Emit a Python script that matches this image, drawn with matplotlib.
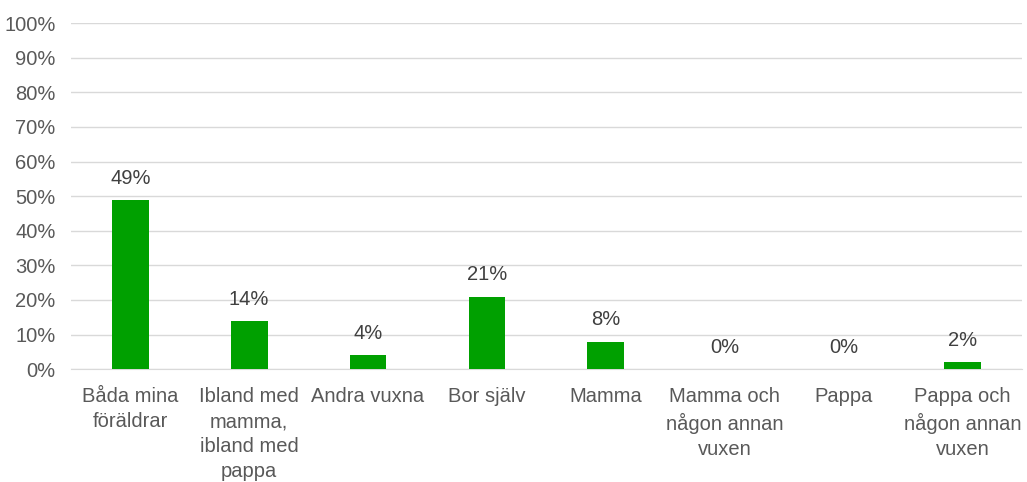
import numpy as np
import matplotlib.pyplot as plt

plt.rcParams['font.family'] = ['Liberation Sans', 'DejaVu Sans']

categories = ['Båda mina\nföräldrar', 'Ibland med\nmamma,\nibland med\npappa', 'Andra vuxna',
              'Bor själv', 'Mamma', 'Mamma och\nnågon annan\nvuxen', 'Pappa',
              'Pappa och\nnågon annan\nvuxen']
values = [49, 14, 4, 21, 8, 0, 0, 2]
yticks = [0, 10, 20, 30, 40, 50, 60, 70, 80, 90, 100]

fig = plt.figure(figsize=(10.27, 4.82), dpi=100)
ax = fig.add_axes([0.069, 0.234, 0.926, 0.718])

x = np.arange(len(categories))
ax.bar(x, values, width=0.31, color='#00A000', zorder=3)

for xi, v in zip(x, values):
    ax.text(xi, v + 3.5, f'{v}%', ha='center', va='bottom', fontsize=14.5, color='#404040')

ax.set_ylim(0, 100)
ax.set_xlim(-0.5, len(categories) - 0.5)
ax.set_yticks(yticks)
ax.set_yticklabels([f'{t}%' for t in yticks], fontsize=14.5, color='#595959')
ax.set_xticks(x)
ax.set_xticklabels(categories, fontsize=14.5, color='#595959', linespacing=1.4)
ax.tick_params(axis='both', length=0)
ax.tick_params(axis='x', pad=13)
ax.tick_params(axis='y', pad=11)

ax.grid(axis='y', color='#d9d9d9', linewidth=1, zorder=0)
for side in ['top', 'right', 'left']:
    ax.spines[side].set_visible(False)
ax.spines['bottom'].set_color('#d9d9d9')

fig.savefig('out.png', dpi=100)
